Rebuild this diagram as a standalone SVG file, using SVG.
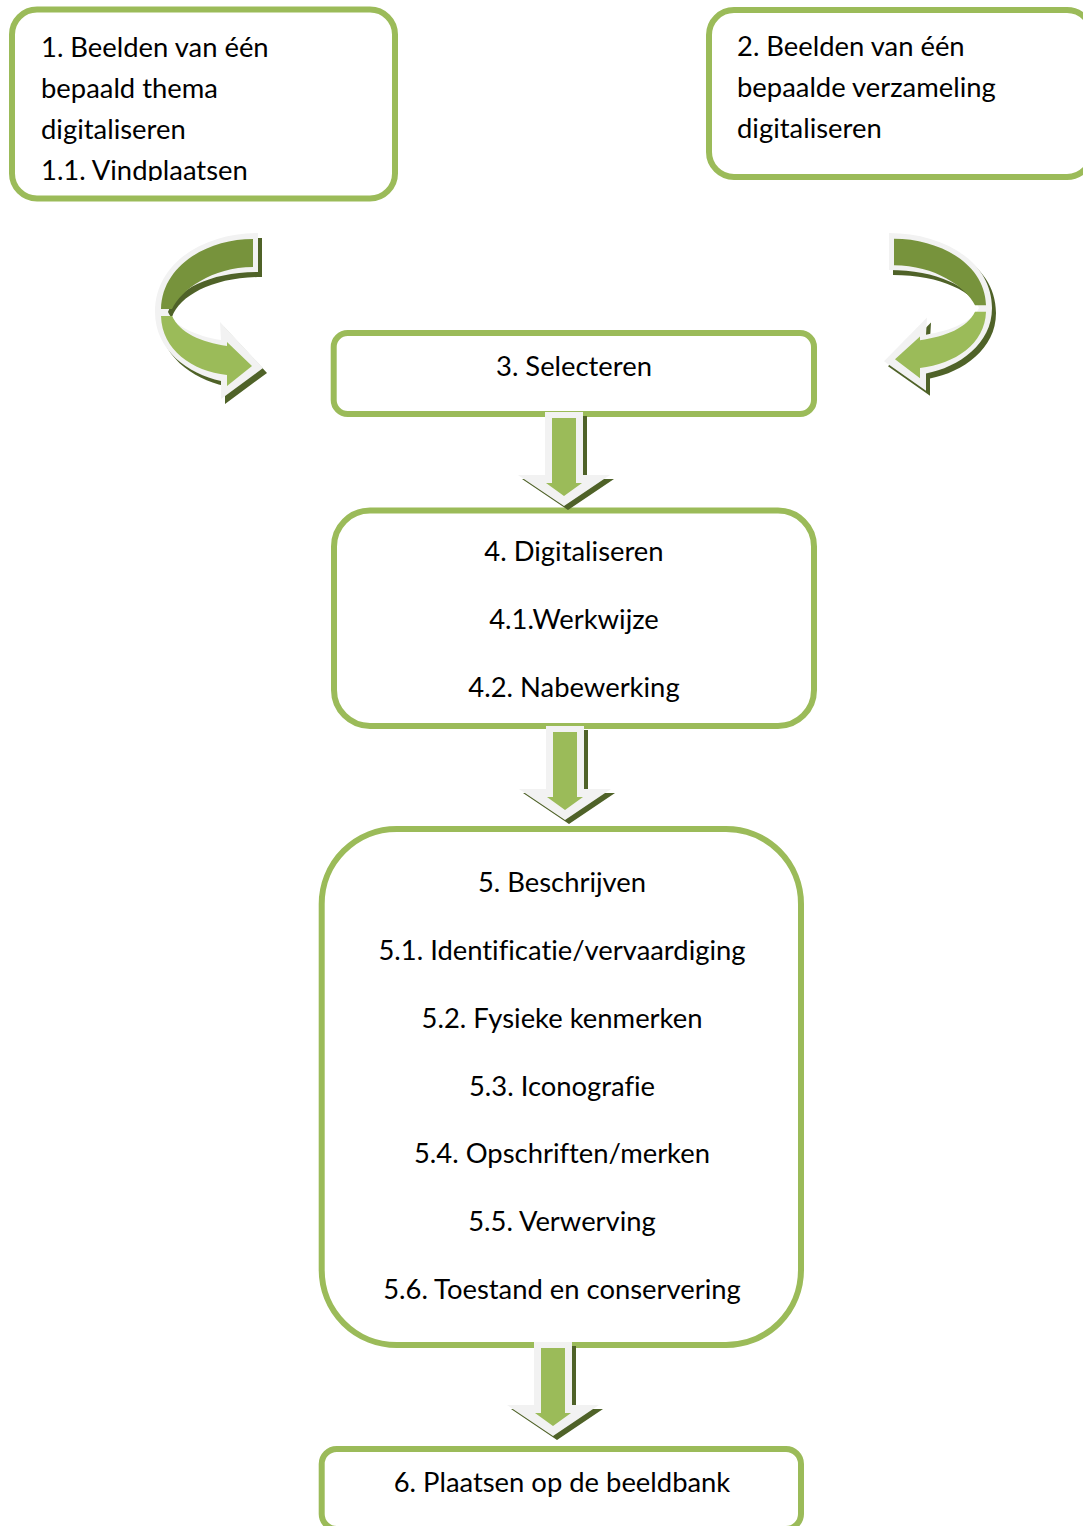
<svg xmlns="http://www.w3.org/2000/svg" xmlns:xlink="http://www.w3.org/1999/xlink" width="1083" height="1526" viewBox="0 0 1083 1526">
<style>
.box{fill:#fff;stroke:#9BBB59;stroke-width:6}
.t{font-family:Lato,"Liberation Sans",sans-serif;font-size:27.4px;fill:#000;font-variant-ligatures:none}
.c{text-anchor:middle}
.sh{fill:#4F6228}
.ol{fill:#F2F2F2}
.g1{fill:#9BBB59}
.g2{fill:#77933C}
</style>
<defs>
<clipPath id="clip1"><rect x="0" y="0" width="400" height="181"/></clipPath>
<path id="down" d="M-19,0 H19 V63 H46 L0,94 L-46,63 H-19 Z"/>
<g id="downArrow">
<use xlink:href="#down" class="sh" transform="translate(4,4)"/>
<use xlink:href="#down" class="ol"/>
<path class="g1" d="M-12,6 H12 V71 H18 L0,84 L-18,71 H-12 Z"/>
</g>
<path id="curveOut" d="M258,233 C205,233 155,262 155,312 C155,350 188,374 221,381 L221,399 L263,368 L220,322 L221,340 C196,336 174,326 168,312 C176,290 210,272 258,272 Z"/>
<g id="curveArrow">
<use xlink:href="#curveOut" class="ol"/>
<path class="g2" d="M253,239 C208,239 162,265 161,309 L172,309 C181,290 212,267 253,267 Z"/>
<path class="g1" d="M161,316 C162,350 192,371 227,375 L227,386 L252,366 L227,342 L227,346 C201,342 180,333 172,316 Z"/>
</g>
</defs>

<g id="node1">
<rect class="box" x="12" y="9.5" width="383" height="189" rx="25"/>
<g clip-path="url(#clip1)">
<text class="t" x="41" y="57">1. Beelden van één</text>
<text class="t" x="41" y="98">bepaald thema</text>
<text class="t" x="41" y="139">digitaliseren</text>
<text class="t" x="41" y="180">1.1. Vindplaatsen</text>
</g>
</g>

<g id="node2">
<rect class="box" x="709" y="10" width="383" height="167" rx="25"/>
<text class="t" x="737" y="56">2. Beelden van één</text>
<text class="t" x="737" y="97">bepaalde verzameling</text>
<text class="t" x="737" y="138">digitaliseren</text>
</g>

<g id="node3">
<rect class="box" x="333.7" y="333" width="480.3" height="81" rx="14"/>
<text class="t c" x="574" y="376">3. Selecteren</text>
</g>

<g id="node4">
<rect class="box" x="334" y="510.5" width="480" height="215.5" rx="36"/>
<text class="t c" x="574" y="561">4. Digitaliseren</text>
<text class="t c" x="574" y="629">4.1.Werkwijze</text>
<text class="t c" x="574" y="697">4.2. Nabewerking</text>
</g>

<g id="node5">
<rect class="box" x="321.7" y="829" width="479.3" height="516" rx="75"/>
<text class="t c" x="562" y="892">5. Beschrijven</text>
<text class="t c" x="562" y="960">5.1. Identificatie/vervaardiging</text>
<text class="t c" x="562" y="1028">5.2. Fysieke kenmerken</text>
<text class="t c" x="562" y="1096">5.3. Iconografie</text>
<text class="t c" x="562" y="1163">5.4. Opschriften/merken</text>
<text class="t c" x="562" y="1231">5.5. Verwerving</text>
<text class="t c" x="562" y="1299">5.6. Toestand en conservering</text>
</g>

<g id="node6">
<rect class="box" x="321.7" y="1449" width="479.3" height="80" rx="15"/>
<text class="t c" x="562" y="1492">6. Plaatsen op de beeldbank</text>
</g>

<g id="connectors">
<g id="curve-left">
<use xlink:href="#curveOut" class="sh" transform="translate(4,5)"/>
<use xlink:href="#curveArrow"/>
</g>
<g id="curve-right">
<use xlink:href="#curveOut" class="sh" transform="translate(4,5) matrix(-1,0,0,0.95,1147,11.65)"/>
<use xlink:href="#curveArrow" transform="matrix(-1,0,0,0.95,1147,11.65)"/>
</g>
<use xlink:href="#downArrow" transform="translate(564,412)"/>
<use xlink:href="#downArrow" transform="translate(565,726)"/>
<use xlink:href="#downArrow" transform="translate(553,1342)"/>
</g>
</svg>
